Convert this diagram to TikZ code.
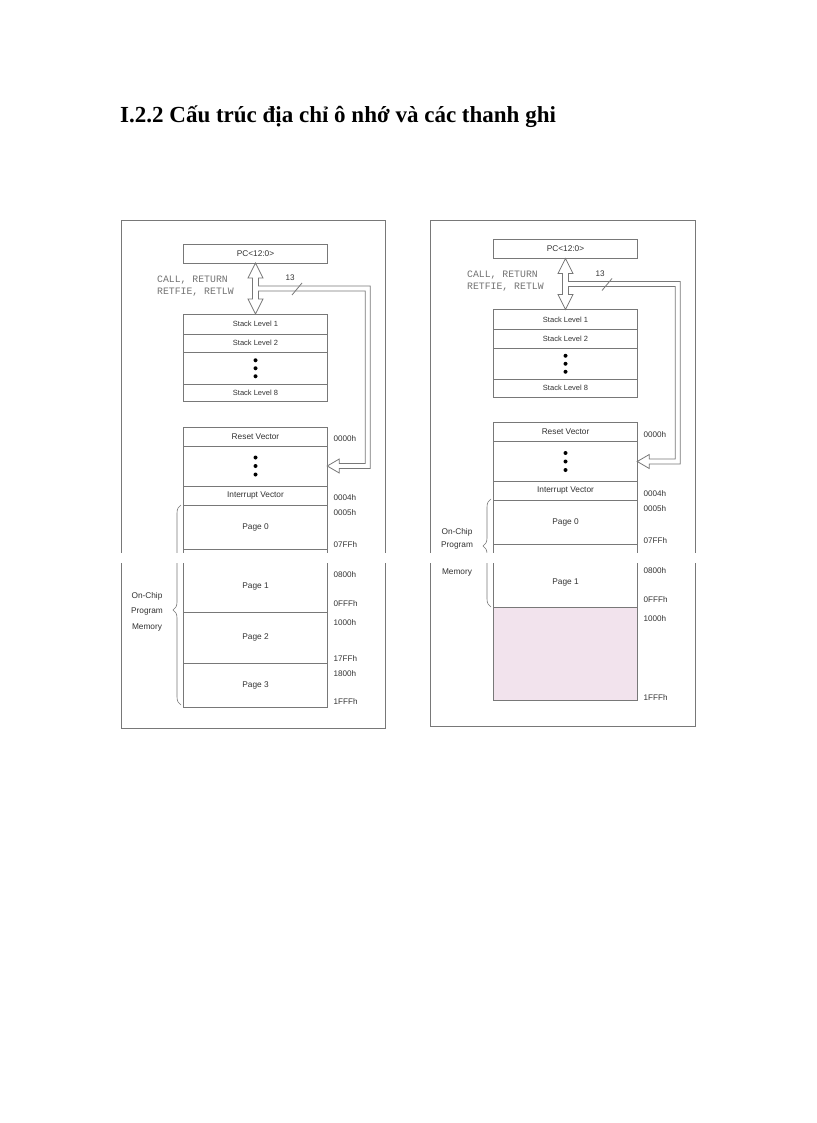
\documentclass[tikz,border=0pt]{standalone}
\usepackage{fontspec}
\setmainfont{Liberation Serif}
\newfontfamily\arialfont{Liberation Sans}
\newfontfamily\courierfont{Liberation Mono}
\usetikzlibrary{positioning,calc,decorations.pathreplacing}

\definecolor{linegray}{RGB}{120,120,120}
\definecolor{textgray}{RGB}{50,50,50}
\definecolor{freemem}{RGB}{242,227,237}

\tikzset{
  memrow/.style={draw=linegray, line width=0.9pt, minimum width=143.5pt,
    minimum height=#1, inner sep=0pt, outer sep=0pt, text=textgray,
    font=\arialfont\fontsize{8.3}{9}\selectfont},
  stacktxt/.style={font=\arialfont\fontsize{7.5}{8}\selectfont},
  addr/.style={anchor=west, inner sep=0pt, text=textgray,
    font=\arialfont\fontsize{8.1}{9}\selectfont},
  sidetxt/.style={inner sep=0pt, text=textgray,
    font=\arialfont\fontsize{8.3}{9}\selectfont},
  calltxt/.style={anchor=west, inner sep=0pt, text=black!55,
    font=\courierfont\fontsize{9.8}{11}\selectfont},
  hollow/.style={draw=linegray, line width=0.8pt, fill=white, line join=miter},
  panel/.style={draw=linegray, line width=1pt},
  curly/.style={draw=linegray, line width=0.6pt, decorate}
}

% upper part, the same in both panels
\newcommand\memtop{%
  \node[memrow=19pt] (pc) at (255.5,253.5) {PC<12:0>};
  \node[memrow=20pt, stacktxt, anchor=north] (s1) at (255.5,314) {Stack Level 1};
  \node[memrow=18.5pt, stacktxt, below=0pt of s1] (s2) {Stack Level 2};
  \node[memrow=31.5pt, below=0pt of s2] (sd) {};
  \node[memrow=17.5pt, stacktxt, below=0pt of sd] (s8) {Stack Level 8};
  \node[memrow=19pt, anchor=north] (rv) at (255.5,427) {Reset Vector};
  \node[memrow=40pt, below=0pt of rv] (md) {};
  \node[memrow=19pt, below=0pt of md] (iv) {Interrupt Vector};
  \node[memrow=44pt, below=0pt of iv] (p0) {Page 0};
  \node[memrow=63pt, below=0pt of p0] (p1) {};
  \node[sidetxt, text=textgray] at ($(p1.center)+(0,6.5)$) {Page 1};
  \fill ($(sd.center)+(0,-8)$) circle (2pt);
  \fill (sd.center) circle (2pt);
  \fill ($(sd.center)+(0,8)$) circle (2pt);
  \fill ($(md.center)+(0,-8.5)$) circle (2pt);
  \fill (md.center) circle (2pt);
  \fill ($(md.center)+(0,8.5)$) circle (2pt);
  % hollow arrows
  \coordinate (ua) at (pc.south);
  \coordinate (la) at (s1.north);
  \coordinate (dv) at (md.east);
  \coordinate (bo) at ($(ua)+(3,23)$);
  \coordinate (bi) at ($(ua)+(3,28)$);
  \coordinate (ho) at ($(dv)+(12,2.5)$);
  \coordinate (hi) at ($(dv)+(12,-2.5)$);
  \coordinate (ro) at ($(dv)+(43,0)$);
  \coordinate (ri) at ($(dv)+(38,0)$);
  \draw[hollow] (ua) -- ++(7.5,15) -- ++(-4.5,0) -- (bo) -- (ro |- bo)
    -- (ro |- ho) -- (ho) -- ++(0,4.5) -- (dv) -- ++(12,-7) -- (hi)
    -- (ri |- hi) -- (ri |- bi) -- (bi) -- ($(la)+(3,-15)$)
    -- ($(la)+(7.5,-15)$) -- (la) -- ($(la)+(-7.5,-15)$)
    -- ($(la)+(-3,-15)$) -- ($(ua)+(-3,15)$) -- ($(ua)+(-7.5,15)$) -- cycle;
  \draw[linegray, line width=0.8pt] (292,295) -- (302,283);
  \node[addr] at (285.5,278) {13};
  \node[calltxt] at (157,280) {CALL, RETURN};
  \node[calltxt] at (157,292) {RETFIE, RETLW};
  % addresses
  \node[addr] at (333.5,439) {0000h};
  \node[addr] at (333.5,498) {0004h};
  \node[addr] at (333.5,513) {0005h};
  \node[addr] at (333.5,545) {07FFh};
  \node[addr] at (333.5,575) {0800h};
  \node[addr] at (333.5,604) {0FFFh};
  \node[addr] at (333.5,623) {1000h};
  \node[addr] at (333.5,702) {1FFFh};
}

\begin{document}
\begin{tikzpicture}[x=1pt, y=-1pt]
\useasboundingbox (0,0) rectangle (816,1123);
\fill[white] (0,0) rectangle (816,1123);

\node[anchor=base west, inner sep=0pt, font=\bfseries\fontsize{23}{27}\selectfont]
  (title) at (120,123) {I.2.2 Cấu trúc địa chỉ ô nhớ và các thanh ghi};

\draw[panel] (121,221) rectangle (385,728);
\draw[panel] (430,221) rectangle (695,726);

% left panel: four pages
\memtop
\node[memrow=51pt, below=0pt of p1] (p2) {Page 2};
\node[memrow=44pt, below=0pt of p2] (p3) {Page 3};
\node[addr] at (333.5,659) {17FFh};
\node[addr] at (333.5,674) {1800h};
\draw[curly, decoration={brace, amplitude=8pt, aspect=0.475}] (181,705) -- (181,505);
\node[sidetxt] at (147,596) {On-Chip};
\node[sidetxt] at (147,611) {Program};
\node[sidetxt] at (147,627) {Memory};

% right panel: two pages
\begin{scope}[shift={(310,-4.5)}]
\memtop
\node[memrow=93pt, fill=freemem, below=0pt of p1] (nm) {};
\draw[curly, decoration={brace, amplitude=8pt, aspect=0.565}] (181,611.5) -- (181,503.5);
\node[sidetxt] at (147,536.5) {On-Chip};
\node[sidetxt] at (147,550.5) {Program};
\node[sidetxt] at (147,577.5) {Memory};
\end{scope}

% cut across both panels
\fill[white] (110,552.5) rectangle (710,562.5);
\end{tikzpicture}
\end{document}
